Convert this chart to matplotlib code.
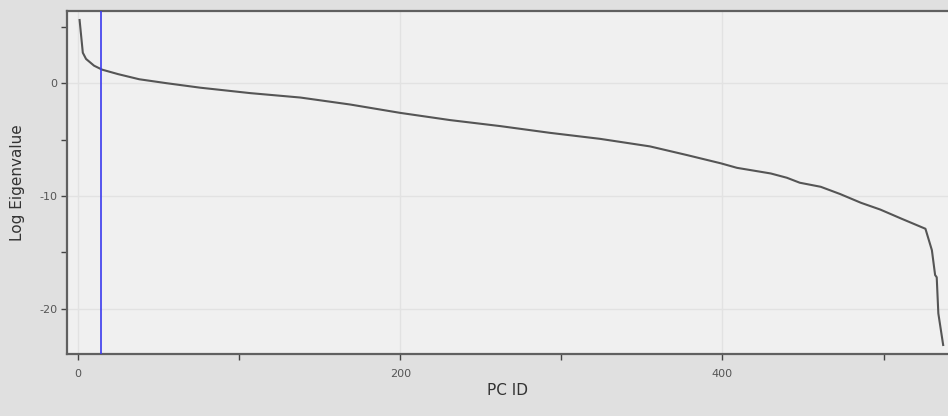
import numpy as np
import matplotlib
matplotlib.use("Agg")
import matplotlib.pyplot as plt
from matplotlib.ticker import MultipleLocator

plt.rcParams["axes.unicode_minus"] = False

# eigenvalue spectrum (log scale), read at the bends of the curve
pc_id = [1, 3, 5, 10, 15, 25, 38, 55, 76, 107, 138, 169, 200, 231, 262,
         293, 324, 355, 378, 399, 409, 430, 440, 448, 461, 473, 486, 498,
         511, 526, 530, 532, 533, 534, 537]
log_eig = [5.6, 2.7, 2.15, 1.55, 1.2, 0.8, 0.35, 0.0, -0.4, -0.88, -1.27,
           -1.89, -2.63, -3.27, -3.8, -4.4, -4.93, -5.6, -6.37, -7.1, -7.5,
           -8.0, -8.38, -8.82, -9.18, -9.82, -10.6, -11.2, -12.0, -12.9,
           -14.8, -17.0, -17.2, -20.4, -23.2]
cutoff = 14

x_ticks = [0, 200, 400]
y_ticks = [-20, -10, 0]

fig = plt.figure(figsize=(9.48, 4.16), dpi=100, facecolor="#e0e0e0")
ax = fig.add_axes([0.0707, 0.149, 0.9293, 0.8246])
ax.set_facecolor("#f0f0f0")

ax.plot(pc_id, log_eig, color="#555555", linewidth=1.5, zorder=3)
ax.axvline(cutoff, color="#3a3aee", linewidth=1.2, zorder=4)

ax.set_xlim(-6.8, 540)
ax.set_ylim(-24.0, 6.4)

ax.set_xticks(x_ticks)
ax.set_yticks(y_ticks)
ax.xaxis.set_minor_locator(MultipleLocator(100))
ax.yaxis.set_minor_locator(MultipleLocator(5))
ax.grid(True, which="major", color="#e2e2e2", linewidth=1.0)
ax.set_axisbelow(True)

for side in ["left", "bottom", "top"]:
    ax.spines[side].set_color("#606060")
    ax.spines[side].set_linewidth(1.6)
ax.spines["right"].set_visible(False)

ax.tick_params(which="both", direction="out", length=4, width=1,
               color="#444444", labelsize=8, labelcolor="#555555")
ax.tick_params(axis="x", pad=7)
ax.tick_params(axis="y", pad=3)

ax.set_xlabel("PC ID", fontsize=11, color="#333333", labelpad=3)
ax.set_ylabel("Log Eigenvalue", fontsize=11, color="#333333", labelpad=10)

fig.savefig("out.png", dpi=100, facecolor=fig.get_facecolor())
